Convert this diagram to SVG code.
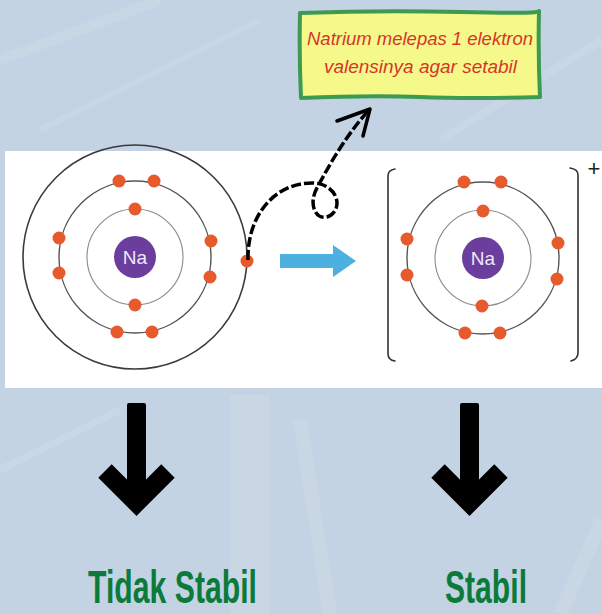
<svg xmlns="http://www.w3.org/2000/svg" width="602" height="614" viewBox="0 0 602 614">
  <style>
    .orbit-outer { fill: none; stroke: #3a3a3a; stroke-width: 1.6; }
    .orbit-mid { fill: none; stroke: #555; stroke-width: 1.4; }
    .orbit-in { fill: none; stroke: #8a8a8a; stroke-width: 1.1; }
    .e { fill: #e65a2c; }
    .nucleus { fill: #6b3d9c; }
    .na { font-family: "Liberation Sans", Arial, sans-serif; font-size: 19px; fill: #efe8f6; text-anchor: middle; }
    .note { font-family: "Liberation Sans", Arial, sans-serif; font-style: italic; font-size: 18px; fill: #d6352a; }
    .label { font-family: "Liberation Sans", Arial, sans-serif; font-weight: bold; font-size: 46px; fill: #0b7a3a; }
    .bracket { fill: none; stroke: #333; stroke-width: 1.6; stroke-linecap: round; }
    .down { fill: #000; stroke: none; }
    .chev { fill: none; stroke: #000; stroke-width: 19; stroke-linejoin: miter; }
  </style>

  <!-- backdrop -->
  <rect width="602" height="614" fill="#c3d3e3"/>
  <g fill="none" stroke="#ffffff" stroke-opacity="0.1">
    <path d="M0 60 L160 0" stroke-width="10"/>
    <path d="M40 130 L260 20" stroke-width="6"/>
    <path d="M440 140 L602 40" stroke-width="8"/>
    <path d="M250 395 L250 614" stroke-width="40"/>
    <path d="M300 420 L330 614" stroke-width="14"/>
    <path d="M0 470 L120 410" stroke-width="8"/>
    <path d="M560 614 L602 520" stroke-width="14"/>
  </g>

  <!-- white panel -->
  <rect x="5" y="151" width="597" height="237" fill="#ffffff"/>

  <!-- sodium atom (neutral) -->
  <g id="atom-na">
    <circle class="orbit-outer" cx="135" cy="257" r="112"/>
    <circle class="orbit-mid" cx="135" cy="257" r="76"/>
    <circle class="orbit-in" cx="135" cy="257" r="48"/>
    <circle class="nucleus" cx="135" cy="257" r="21"/>
    <text class="na" x="135" y="264">Na</text>
    <circle class="e" cx="135" cy="209" r="6.5"/>
    <circle class="e" cx="135" cy="305" r="6.5"/>
    <circle class="e" cx="119" cy="181" r="6.5"/>
    <circle class="e" cx="154" cy="181" r="6.5"/>
    <circle class="e" cx="117" cy="332" r="6.5"/>
    <circle class="e" cx="152" cy="332" r="6.5"/>
    <circle class="e" cx="59" cy="238" r="6.5"/>
    <circle class="e" cx="59" cy="273" r="6.5"/>
    <circle class="e" cx="211" cy="241" r="6.5"/>
    <circle class="e" cx="210" cy="277" r="6.5"/>
    <circle class="e" cx="247" cy="261" r="6.5"/>
  </g>

  <!-- sodium ion -->
  <g id="ion-na">
    <circle class="orbit-mid" cx="483" cy="258" r="76"/>
    <circle class="orbit-in" cx="483" cy="258" r="48"/>
    <circle class="nucleus" cx="483" cy="258" r="21"/>
    <text class="na" x="483" y="265">Na</text>
    <circle class="e" cx="483" cy="211" r="6.5"/>
    <circle class="e" cx="482" cy="306" r="6.5"/>
    <circle class="e" cx="464" cy="182" r="6.5"/>
    <circle class="e" cx="501" cy="182" r="6.5"/>
    <circle class="e" cx="465" cy="333" r="6.5"/>
    <circle class="e" cx="500" cy="333" r="6.5"/>
    <circle class="e" cx="407" cy="239" r="6.5"/>
    <circle class="e" cx="407" cy="275" r="6.5"/>
    <circle class="e" cx="558" cy="243" r="6.5"/>
    <circle class="e" cx="557" cy="279" r="6.5"/>
    <path class="bracket" d="M395 169 Q388 170 388 176 L388 354 Q388 360 395 361"/>
    <path class="bracket" d="M570 168 Q578 169 578 175 L578 353 Q578 359 571 361"/>
    <text x="594" y="176" font-family="Liberation Sans, Arial, sans-serif" font-size="22" fill="#222" text-anchor="middle">+</text>
  </g>

  <!-- note box -->
  <g id="note">
    <path d="M300 13 Q380 10 460 12 T539 11 Q538 55 540 97 Q470 99 420 97 T301 98 Q299 55 300 13 Z" fill="#f4f98a" stroke="#3d9a52" stroke-width="4" stroke-linejoin="round"/>
    <text class="note" x="307" y="45" textLength="226" lengthAdjust="spacingAndGlyphs">Natrium melepas 1 elektron</text>
    <text class="note" x="324" y="73" textLength="193" lengthAdjust="spacingAndGlyphs">valensinya agar setabil</text>
  </g>

  <!-- connectors -->
  <g id="connectors">
    <!-- reaction arrow -->
    <path d="M280 254 L333 254 L333 245 L356 261 L333 277 L333 268 L280 268 Z" fill="#4cb1e0"/>
    <!-- electron leaving path -->
    <path d="M248 260 C247 215 275 183 312 183 C335 183 344 205 331 215 C318 224 306 206 318 186 C332 160 348 133 369 110" fill="none" stroke="#000" stroke-width="3.5" stroke-dasharray="10 3" stroke-linecap="butt"/>
    <path d="M337 121 L370 109 L363 136" fill="none" stroke="#000" stroke-width="3.5" stroke-linecap="round" stroke-linejoin="round"/>
    <!-- down arrows -->
    <rect class="down" x="127" y="403" width="19" height="100" rx="2"/>
    <polyline class="chev" points="105,471 136.5,502.5 168,471"/>
    <rect class="down" x="460" y="403" width="19" height="100" rx="2"/>
    <polyline class="chev" points="438,471 469.5,502.5 501,471"/>
  </g>

  <!-- labels -->
  <g id="label-unstable">
    <text class="label" x="88" y="603" textLength="169" lengthAdjust="spacingAndGlyphs">Tidak Stabil</text>
  </g>
  <g id="label-stable">
    <text class="label" x="445" y="603" textLength="82" lengthAdjust="spacingAndGlyphs">Stabil</text>
  </g>
</svg>
